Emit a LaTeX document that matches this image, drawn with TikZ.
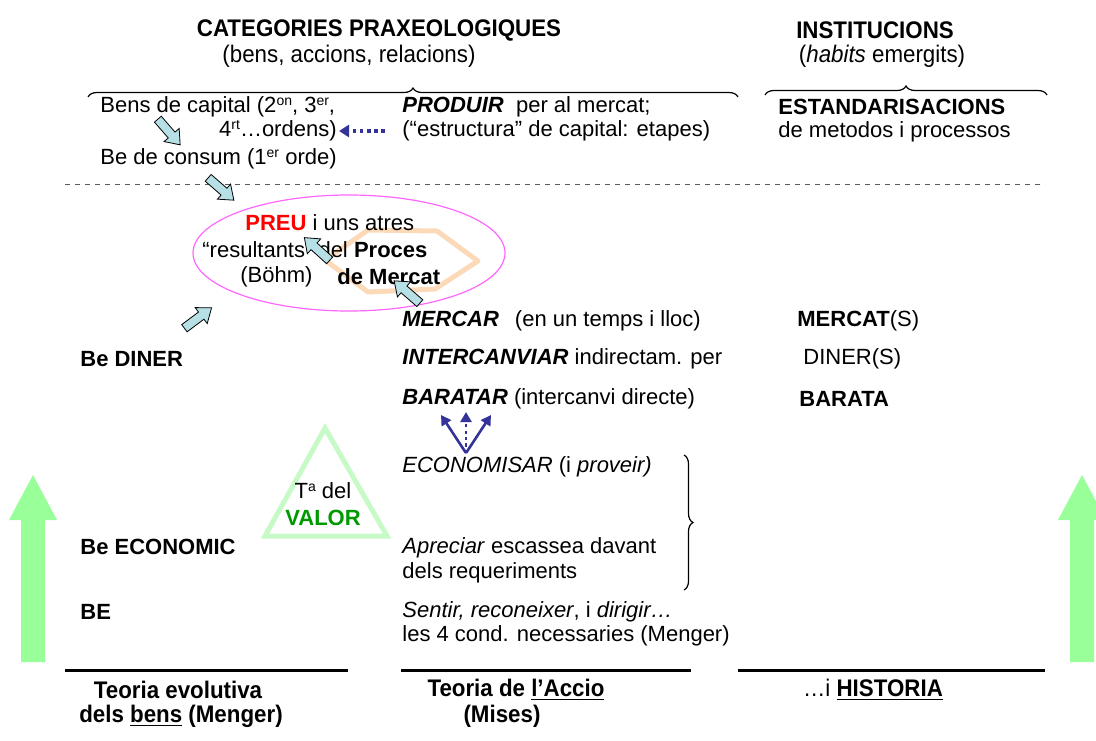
\documentclass[tikz,border=0pt]{standalone}
\usepackage{fontspec}
\setmainfont{Liberation Sans}
\newfontfamily\narrowf{Liberation Sans}[FakeStretch=0.93]
\usetikzlibrary{decorations.pathreplacing,arrows.meta}
\definecolor{arrowcyan}{RGB}{183,224,230}
\definecolor{ellmag}{RGB}{255,102,255}
\definecolor{hexpeach}{RGB}{252,218,185}
\definecolor{trigreen}{RGB}{200,250,200}
\definecolor{valorgreen}{RGB}{0,153,0}
\definecolor{biggreen}{RGB}{153,255,153}
\definecolor{navyarr}{RGB}{51,51,153}
\definecolor{dashgray}{RGB}{90,90,90}
\newcommand\supr[1]{\raisebox{0.62ex}{\fontsize{7}{7}\selectfont #1}}
\tikzset{
  blockarr/.pic={\draw[fill=arrowcyan,line width=0.4pt,line join=miter]
    (-17,-4.5) -- (4,-4.5) -- (4,-10) -- (17,0) -- (4,10) -- (4,4.5) -- (-17,4.5) -- cycle;},
  txt/.style={anchor=west},
  ttl/.style={font=\narrowf\fontsize{12}{14}\selectfont\bfseries},
  subt/.style={font=\narrowf\fontsize{12}{14}\selectfont},
  bracestyle/.style={decorate,decoration={brace,amplitude=4.5pt},line width=0.6pt},
  navyline/.style={draw=navyarr,line width=1.3pt,-{Triangle[length=5pt,width=5.5pt]}},
  navydot/.style={navyline,dash pattern=on 1.6pt off 1.6pt},
  navydotb/.style={draw=navyarr,line width=1.6pt,dash pattern=on 1.8pt off 1.8pt,-{Triangle[length=5pt,width=6pt]}},
}
\begin{document}
\begin{tikzpicture}[x=0.5pt,y=-0.5pt,
  every node/.style={inner sep=0pt,font=\fontsize{11}{12.5}\selectfont}]
\useasboundingbox (0,0) rectangle (1096,740);
\clip (0,0) rectangle (1096,740);

% big green arrows
\fill[biggreen] (33,475) -- (57,520) -- (45,520) -- (45,662) -- (21,662) -- (21,520) -- (9,520) -- cycle;
\fill[biggreen] (1082,475) -- (1106,520) -- (1094,520) -- (1094,662) -- (1070,662) -- (1070,520) -- (1058,520) -- cycle;

% titles
\node[ttl] (t1) at (379,30) {CATEGORIES PRAXEOLOGIQUES};
\node[subt] (s1) at (349,56) {(bens, accions, relacions)};
\node[ttl] (t2) at (875,30) {INSTITUCIONS};
\node[subt] (s2) at (882,56) {(\textit{habits} emergits)};

% braces
\draw[bracestyle] (88,97) -- (738,97);
\draw[bracestyle] (765,95) -- (1047,95);
\draw[bracestyle] (684,455) -- (684,590);

% top block
\node[txt] (bens) at (100,107) {Bens de capital (2\supr{on}, 3\supr{er},};
\node[anchor=east] (ordens) at (337,131) {4\supr{rt}…ordens)};
\node[txt] (consum) at (100,159) {Be de consum (1\supr{er} orde)};
\node[txt] (produir) at (402,107) {\textbf{\textit{PRODUIR}}\ \ per al mercat;};
\node[txt] (estruct) at (402,131) {(“estructura” de capital: etapes)};
\node[txt] (estand) at (778,107) {\textbf{ESTANDARISACIONS}};
\node[txt] (metodos) at (778,132) {de metodos i processos};
\coordinate (dotA) at (385,131);
\draw[navydotb] (dotA) -- ([xshift=1pt]ordens.east);

% dashed separator
\draw[dashgray,line width=0.5pt,dash pattern=on 2.5pt off 2.5pt] (65,184) -- (1045,184);

% ellipse and hexagon
\draw[hexpeach,line width=2.5pt,line join=round] (325,260) -- (368,230) -- (437,231) -- (478,261) -- (435,289) -- (368,292) -- cycle;
\draw[ellmag,line width=0.6pt] (349,253) ellipse [x radius=156, y radius=58];
\node[txt] (preu) at (245,223) {\textcolor{red}{\textbf{PREU}} i uns atres};
\node[txt] (result) at (202,250) {“resultants” del \textbf{Proces}};
\node[txt] (bohm) at (240,277) {(Böhm)};
\node[txt] (demerc) at (337,277) {\textbf{de Mercat}};

% rows
\node[txt] (mercar) at (402,321) {\textbf{\textit{MERCAR}}\hspace{8pt}(en un temps i lloc)};
\node[txt] (mercats) at (797,321) {\textbf{MERCAT}(S)};
\node[txt] (bediner) at (80,359) {\textbf{Be DINER}};
\node[txt] (intercanv) at (402,359) {\textbf{\textit{INTERCANVIAR}} indirectam. per};
\node[txt] (diners) at (803,359) {DINER(S)};
\node[txt] (baratar) at (402,399) {\textbf{\textit{BARATAR}} (intercanvi directe)};
\node[txt] (barata) at (799,399) {\textbf{BARATA}};
\node[txt] (econ) at (402,467) {\textit{ECONOMISAR} (i \textit{proveir)}};
\node[txt] (beecon) at (80,547) {\textbf{Be ECONOMIC}};
\node[txt] (apre) at (402,548) {\textit{Apreciar} escassea davant};
\node[txt] (dels) at (402,573) {dels requeriments};
\node[txt] (be) at (80,612) {\textbf{BE}};
\node[txt] (sentir) at (402,612) {\textit{Sentir, reconeixer}, i \textit{dirigir…}};
\node[txt] (les4) at (402,636) {les 4 cond. necessaries (Menger)};

% fan arrows
\coordinate (fanO) at (466,453);
\coordinate (fanL) at (441,415);
\coordinate (fanM) at (466,412);
\coordinate (fanR) at (491,415);
\draw[navyline] (fanO) -- (fanL);
\draw[navyline] (fanO) -- (fanR);
\draw[navydot] (fanO) -- (fanM);

% triangle
\draw[trigreen,line width=2.5pt,line join=miter] (325,428) -- (387,536) -- (265,536) -- cycle;
\node (ta) at (323,491) {T\supr{a} del};
\node (valor) at (323,518) {\textcolor{valorgreen}{\textbf{VALOR}}};

% block arrows
\pic[rotate=-49] at (169,132) {blockarr};
\pic[rotate=-41] at (221,189) {blockarr};
\pic[rotate=138] at (317,249) {blockarr};
\pic[rotate=139] at (407,292) {blockarr};
\pic[rotate=37] at (198,318) {blockarr};

% bottom lines and labels
\draw[line width=1.5pt] (65,670) -- (348,670);
\draw[line width=1.5pt] (401,670) -- (691,670);
\draw[line width=1.5pt] (738,670) -- (1045,670);
\node[ttl] (teo1) at (178,690) {Teoria evolutiva};
\node[ttl] (teo1b) at (181,716) {dels \underline{bens} (Menger)};
\node[ttl] (teo2) at (516,690) {Teoria de \underline{l’Accio}};
\node[ttl] (teo2b) at (502,716) {(Mises)};
\node[subt] (hist) at (873,690) {…i \textbf{\underline{HISTORIA}}};
\end{tikzpicture}
\end{document}
